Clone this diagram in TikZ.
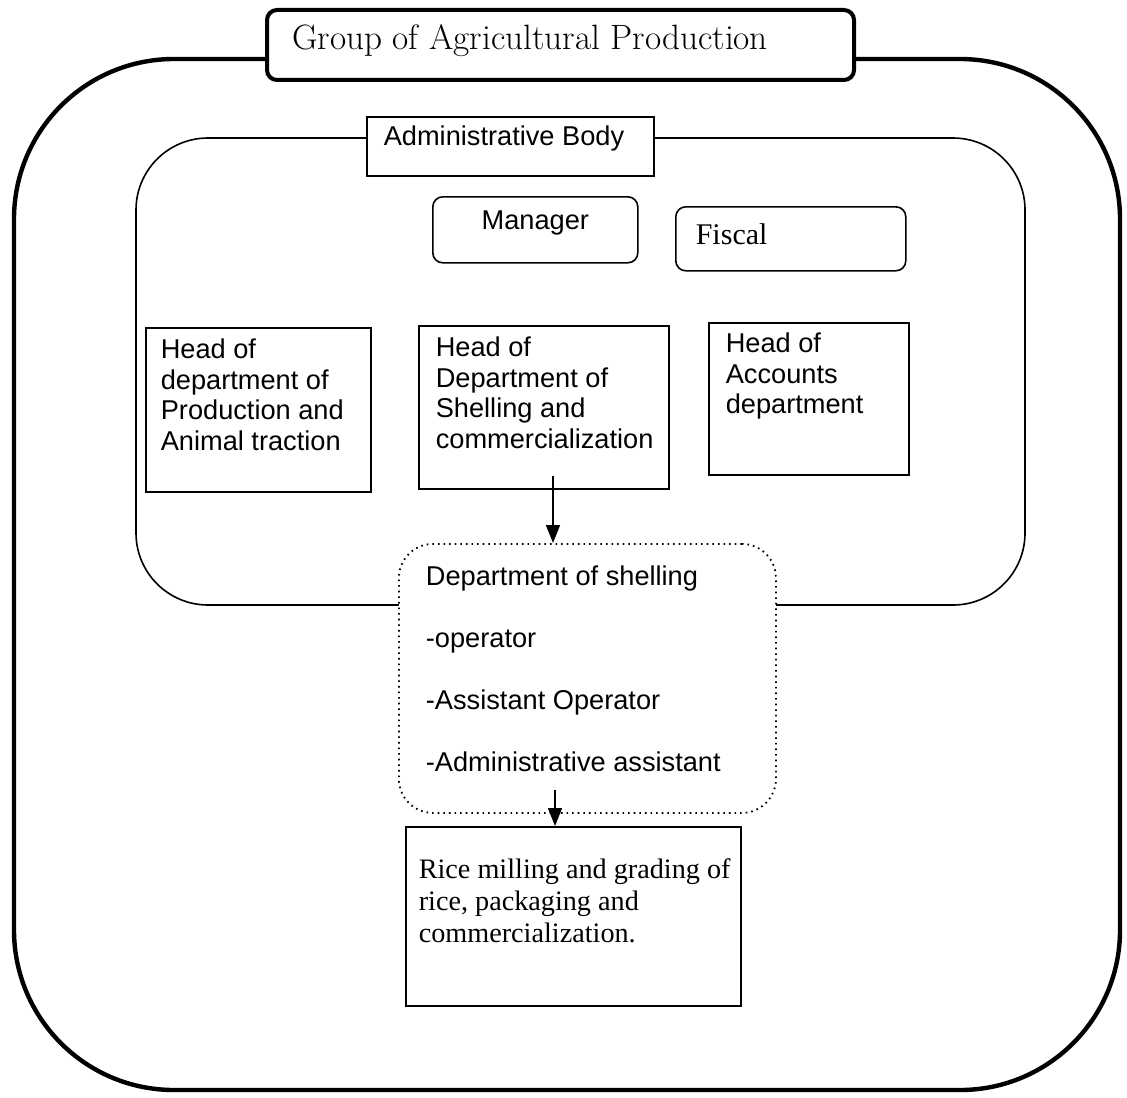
\documentclass[tikz,border=0pt]{standalone}
\usepackage{fontspec}
\newfontfamily\arialfont{Liberation Sans}
\newfontfamily\timesfont{Liberation Serif}
\usetikzlibrary{arrows.meta,positioning}
\tikzstyle{frame}=[line width=2.2pt,rounded corners=80pt]
\tikzstyle{inner}=[line width=.8pt,rounded corners=36pt]
\tikzstyle{titlebox}=[draw,line width=2pt,rounded corners=5pt,fill=white,
                      anchor=north west,font=\fontsize{17.6}{20}\selectfont]
\tikzstyle{headbox}=[draw,line width=.8pt,fill=white,anchor=north west,
                     font=\arialfont\fontsize{13.6}{15.3}\selectfont]
\tikzstyle{roundbox}=[headbox,rounded corners=5pt]
\tikzstyle{dotbox}=[headbox,dotted,line width=.9pt,rounded corners=17pt,
                    font=\arialfont\fontsize{13.6}{31}\selectfont]
\tikzstyle{ricebox}=[headbox,font=\timesfont\fontsize{14.1}{16}\selectfont]
\tikzstyle{arrow}=[-{Triangle[length=9pt,width=7pt]},line width=.8pt]
\newcommand{\boxtext}[3]{\parbox[c][#2][t]{#1}{\raggedright\hyphenpenalty=10000 #3}}

\begin{document}
\begin{tikzpicture}[x=.5pt,y=-.5pt]
  \useasboundingbox (0,0) rectangle (1127,1097);

  \draw[frame] (14,59) rectangle (1120,1090);
  \node[titlebox,inner xsep=12.5pt,inner ysep=7.5pt] (group) at (265,8)
    {\boxtext{268.5pt}{20pt}{\mbox{Group of Agricultural Production}}};

  \draw[inner] (136,138) rectangle (1025,605);
  \node[headbox,inner xsep=8.5pt,inner ysep=4.5pt] (admin) at (366,116)
    {\boxtext{126.5pt}{20.5pt}{Administrative Body}};

  \node[roundbox,inner xsep=8pt,inner ysep=7pt] (manager) at (432,196)
    {\boxtext{86.5pt}{19pt}{\centering Manager}};
  \node[roundbox,inner xsep=10pt,inner ysep=8.5pt,
        font=\timesfont\fontsize{15}{17}\selectfont] (fiscal) at (675,206)
    {\boxtext{95pt}{15pt}{Fiscal}};

  \node[headbox,inner xsep=7.5pt,inner ysep=5.5pt] (prod) at (145,327)
    {\boxtext{97.5pt}{71pt}{Head of\\department of\\Production and\\Animal traction}};
  \node[headbox,inner xsep=8.5pt,inner ysep=5.5pt] (shellhead) at (418,325)
    {\boxtext{108pt}{70.5pt}{Head of\\Department of\\Shelling and\\commercialization}};
  \node[headbox,inner xsep=8.5pt,inner ysep=5pt] (accounts) at (708,322)
    {\boxtext{83pt}{66pt}{Head of\\Accounts\\department}};

  \node[dotbox,inner xsep=13.5pt,inner ysep=11pt] (shelling) at (398,543)
    {\boxtext{161.5pt}{112.5pt}{Department of shelling\\-operator\\-Assistant Operator\\-Administrative assistant}};

  \node[ricebox,inner xsep=6.5pt,inner ysep=16pt] (rice) at (405,826)
    {\boxtext{154.5pt}{57.5pt}{\mbox{Rice milling and grading of}\\rice, packaging and\\commercialization.}};

  \coordinate (a1) at (553,476);
  \coordinate (a2) at (555,790);
  \draw[arrow] (a1) -- (a1 |- shelling.north);
  \draw[arrow] (a2) -- (a2 |- rice.north);
\end{tikzpicture}
\end{document}
